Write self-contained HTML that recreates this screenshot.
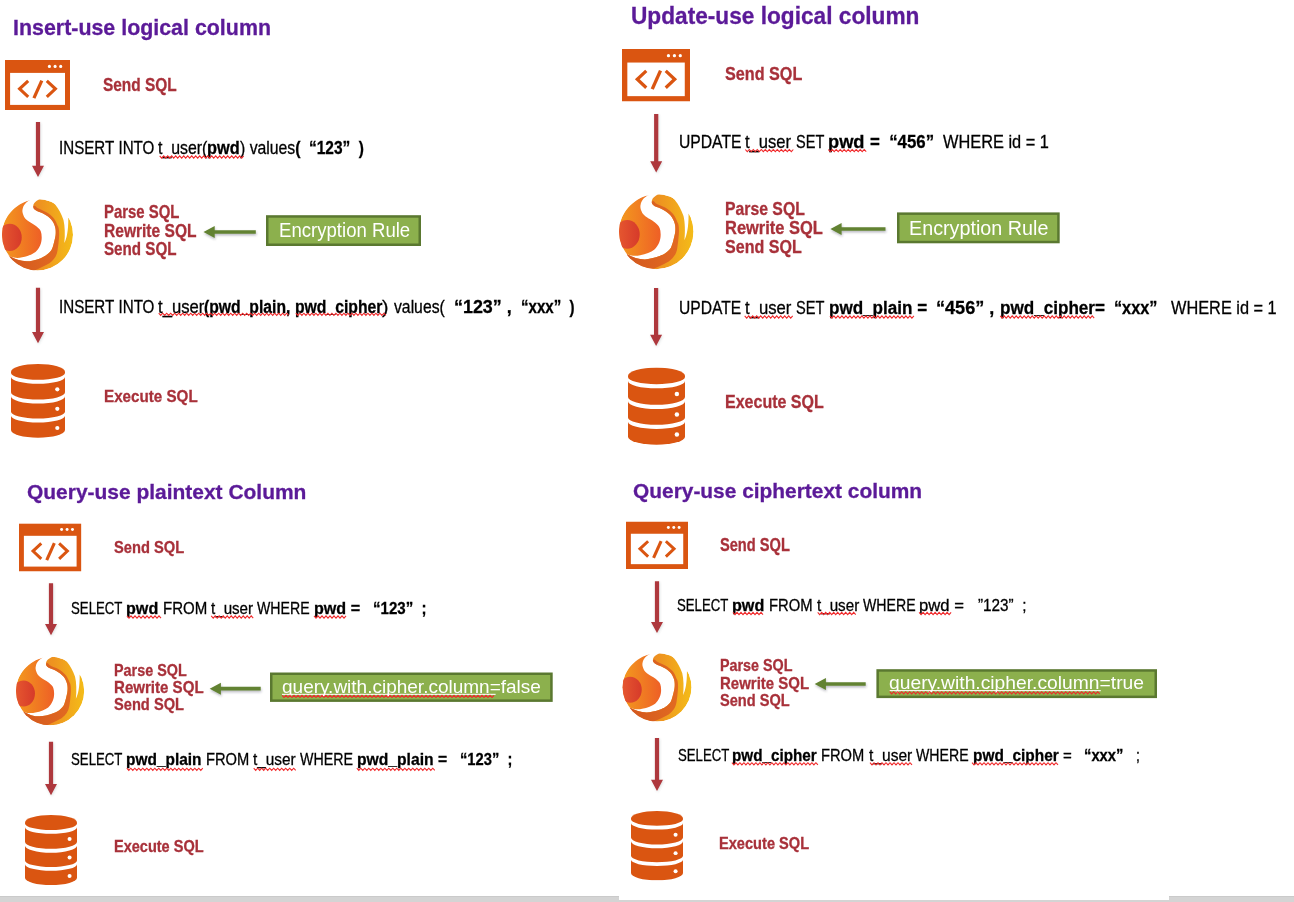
<!DOCTYPE html><html><head><meta charset="utf-8"><title>Encrypt</title><style>

html,body{margin:0;padding:0;background:#fff;}
body{width:1294px;height:902px;position:relative;overflow:hidden;font-family:"Liberation Sans",sans-serif;}
svg.gfx{position:absolute;left:0;top:0;}
.tx{position:absolute;white-space:nowrap;line-height:1;font-weight:bold;transform-origin:0 0;-webkit-text-stroke:0.3px currentColor;}
.tw{-webkit-text-stroke:0;}
.tx span{font-weight:normal;}
.tx b{font-weight:bold;}
.bar{position:absolute;background:#D4D4D4;border-top:1px solid #CACACA;box-sizing:border-box;}

</style></head><body>
<svg class="gfx" width="1294" height="902" viewBox="0 0 1294 902">

<defs>
 <filter id="shR" x="-100%" y="-10%" width="300%" height="130%"><feDropShadow dx="0.6" dy="1" stdDeviation="1.3" flood-color="#506060" flood-opacity="0.22"/></filter>
 <filter id="shG" x="-10%" y="-100%" width="130%" height="300%"><feDropShadow dx="0.5" dy="1.6" stdDeviation="1.2" flood-color="#303048" flood-opacity="0.35"/></filter>
 <symbol id="code" viewBox="0 0 65 50" preserveAspectRatio="none">
  <rect x="0" y="0" width="65" height="50" fill="#DA5511"/>
  <rect x="5.1" y="12.9" width="54.9" height="32" fill="#fff"/>
  <circle cx="44.4" cy="6.4" r="1.55" fill="#fff"/>
  <circle cx="50.1" cy="6.4" r="1.55" fill="#fff"/>
  <circle cx="55.7" cy="6.4" r="1.55" fill="#fff"/>
  <polyline points="23.2,20.8 14.6,28.8 23.2,36.9" fill="none" stroke="#DA5511" stroke-width="3.1"/>
  <polyline points="41.8,20.8 50.4,28.8 41.8,36.9" fill="none" stroke="#DA5511" stroke-width="3.1"/>
  <line x1="36.8" y1="20.6" x2="28.9" y2="38.2" stroke="#DA5511" stroke-width="3.2"/>
 </symbol>
 <symbol id="db" viewBox="0 0 54 74" preserveAspectRatio="none">
  <path d="M0 7.8 A27 7.8 0 0 1 54 7.8 L54 66 A27 7.7 0 0 1 0 66 Z" fill="#DA5511"/>
  <path d="M-0.5 8.90 L0 8.90 A27 6.90 0 0 0 54 8.90 L54.5 8.90 L54.5 12.90 L54 12.90 A27 6.90 0 0 1 0 12.90 L-0.5 12.90 Z" fill="#fff"/>
  <path d="M-0.5 28.20 L0 28.20 A27 7.40 0 0 0 54 28.20 L54.5 28.20 L54.5 32.20 L54 32.20 A27 7.40 0 0 1 0 32.20 L-0.5 32.20 Z" fill="#fff"/>
  <path d="M-0.5 47.70 L0 47.70 A27 6.90 0 0 0 54 47.70 L54.5 47.70 L54.5 51.70 L54 51.70 A27 6.90 0 0 1 0 51.70 L-0.5 51.70 Z" fill="#fff"/>
  <circle cx="46.3" cy="25.3" r="2.1" fill="#fff"/>
  <circle cx="46.3" cy="44.8" r="2.1" fill="#fff"/>
  <circle cx="46.3" cy="64" r="2.1" fill="#fff"/>
 </symbol>
 <linearGradient id="gBase" x1="0" y1="0" x2="1" y2="0">
  <stop offset="0" stop-color="#E9742A"/><stop offset="0.55" stop-color="#EE9420"/><stop offset="1" stop-color="#F4BC18"/>
 </linearGradient>
 <linearGradient id="gLeft" gradientUnits="userSpaceOnUse" x1="0" y1="0" x2="56" y2="0">
  <stop offset="0" stop-color="#F39A1E"/><stop offset="1" stop-color="#EE5F26"/>
 </linearGradient>
 <linearGradient id="gRed" gradientUnits="userSpaceOnUse" x1="0" y1="0" x2="28" y2="0">
  <stop offset="0" stop-color="#E5562F"/><stop offset="1" stop-color="#D63A2A"/>
 </linearGradient>
 <linearGradient id="gDark" gradientUnits="userSpaceOnUse" x1="10" y1="0" x2="80" y2="0">
  <stop offset="0" stop-color="#D2581F"/><stop offset="1" stop-color="#E26A21"/>
 </linearGradient>
 <clipPath id="cSph"><circle cx="50" cy="50" r="50"/></clipPath>
 <symbol id="logo" viewBox="0 0 100 100" preserveAspectRatio="none" overflow="visible">
  <g clip-path="url(#cSph)">
   <circle cx="50" cy="50" r="50" fill="url(#gBase)"/>
  </g>
   <path d="M40.3 -2 L60 -2 C52 0 44 4 43.9 10.6 C44 14 47 16 50.7 17.4 C55 19 58 20 62 22.7 C66 25 69 28 71 30.8 C73 34 75 38 75.4 42 C76 47 75.5 52 74.6 55 C73 62 71.5 68 69.7 71.4 C65 78 60 80 54.6 82.6 C48 85 40 87 34.7 87 C26 87 18 84 11 80.1 L0 70 L0 0 Z" fill="#fff"/>
  <g clip-path="url(#cSph)">
   <path d="M40.3 1.3 C20 6 0 25 0 50 C0 62 4 72 11 80.1 C18 83 24 82.5 28.4 81.4 C36 80 43 77 47.2 74 C53 69 56 61 55.9 54.1 C56 47 54 43 52.2 41.6 C47 36 42 34 38.4 31.7 C34 29 31 26 30.3 23 C28.5 19 28.5 16 29 14.3 C30 8 35 3 40.3 1.3 Z" fill="url(#gLeft)"/>
   <ellipse cx="11" cy="53.7" rx="16.8" ry="19" fill="url(#gRed)"/>
   <path d="M43.9 10.6 C44 14 47 16 50.7 17.4 C55 19 58 20 62 22.7 C66 25 69 28 71 30.8 C73 34 75 38 75.4 42 C76 47 75.5 52 74.6 55 C73 62 71.5 68 69.7 71.4 C65 78 60 80 54.6 82.6 C48 85 40 87 34.7 87 C26 87 18 84 11 80.1 L4 100 L38 103 C46 100 58 95 66.8 89.9 C73 85 77 80 78.2 72 C79 66 80 60 80.3 54 C81 45 80 39 78.4 37.5 C76 31 74 28 71.7 25.6 C67 21 63 18 58.9 16.7 C53 14 49 13 47.7 10.6 C46.5 9 45 9 43.9 10.6 Z" fill="url(#gDark)"/>
  </g>
   <path d="M60 -2 C71 1 80.7 12 86.6 29.4 C88.6 38 89 50 87.8 61.5 C91 55 93.5 45 93.4 26.4 L102 26.4 L102 -2 Z" fill="#fff"/>
</symbol>
</defs>

<use href="#code" x="5.00" y="60.00" width="65.00" height="50.00"/>
<use href="#code" x="622.00" y="49.00" width="68.00" height="52.50"/>
<use href="#code" x="19.00" y="523.40" width="62.40" height="48.10"/>
<use href="#code" x="626.00" y="521.50" width="62.00" height="47.50"/>
<use href="#logo" x="2.00" y="199.00" width="71.00" height="71.60"/>
<use href="#logo" x="619.00" y="194.00" width="74.50" height="75.20"/>
<use href="#logo" x="16.00" y="656.60" width="68.20" height="68.70"/>
<use href="#logo" x="622.60" y="653.00" width="68.90" height="68.50"/>
<use href="#db" x="11.00" y="364.00" width="54.00" height="74.00"/>
<use href="#db" x="628.00" y="367.60" width="57.00" height="77.40"/>
<use href="#db" x="25.00" y="815.00" width="52.00" height="70.40"/>
<use href="#db" x="631.00" y="811.00" width="52.00" height="69.60"/>
<path d="M35.90 122.00 L40.10 122.00 L40.10 165.80 L44.00 165.80 L38.00 177.00 L32.00 165.80 L35.90 165.80 Z" fill="#AE383D" filter="url(#shR)"/>
<path d="M35.90 287.70 L40.10 287.70 L40.10 332.00 L44.00 332.00 L38.00 343.20 L32.00 332.00 L35.90 332.00 Z" fill="#AE383D" filter="url(#shR)"/>
<path d="M654.10 113.90 L658.30 113.90 L658.30 161.30 L662.20 161.30 L656.20 172.50 L650.20 161.30 L654.10 161.30 Z" fill="#AE383D" filter="url(#shR)"/>
<path d="M654.00 287.90 L658.20 287.90 L658.20 334.80 L662.10 334.80 L656.10 346.00 L650.10 334.80 L654.00 334.80 Z" fill="#AE383D" filter="url(#shR)"/>
<path d="M48.90 583.30 L53.10 583.30 L53.10 624.00 L57.00 624.00 L51.00 635.20 L45.00 624.00 L48.90 624.00 Z" fill="#AE383D" filter="url(#shR)"/>
<path d="M48.90 741.80 L53.10 741.80 L53.10 784.00 L57.00 784.00 L51.00 795.20 L45.00 784.00 L48.90 784.00 Z" fill="#AE383D" filter="url(#shR)"/>
<path d="M654.90 581.30 L659.10 581.30 L659.10 621.90 L663.00 621.90 L657.00 633.10 L651.00 621.90 L654.90 621.90 Z" fill="#AE383D" filter="url(#shR)"/>
<path d="M654.90 738.00 L659.10 738.00 L659.10 779.80 L663.00 779.80 L657.00 791.00 L651.00 779.80 L654.90 779.80 Z" fill="#AE383D" filter="url(#shR)"/>
<path d="M255.80 230.15 L214.70 230.15 L214.70 226.00 L203.50 232.00 L214.70 238.00 L214.70 233.85 L255.80 233.85 Z" fill="#628230" filter="url(#shG)"/>
<path d="M885.50 227.15 L841.60 227.15 L841.60 223.00 L830.40 229.00 L841.60 235.00 L841.60 230.85 L885.50 230.85 Z" fill="#628230" filter="url(#shG)"/>
<path d="M260.70 686.85 L220.90 686.85 L220.90 682.70 L209.70 688.70 L220.90 694.70 L220.90 690.55 L260.70 690.55 Z" fill="#628230" filter="url(#shG)"/>
<path d="M865.70 682.15 L825.90 682.15 L825.90 678.00 L814.70 684.00 L825.90 690.00 L825.90 685.85 L865.70 685.85 Z" fill="#628230" filter="url(#shG)"/>
<rect x="267.25" y="216.45" width="152.50" height="28.30" fill="#8CB04D" stroke="#5A7830" stroke-width="2.50"/>
<rect x="898.25" y="213.65" width="160.20" height="28.40" fill="#8CB04D" stroke="#5A7830" stroke-width="2.50"/>
<rect x="271.25" y="673.75" width="280.20" height="26.90" fill="#8CB04D" stroke="#5A7830" stroke-width="2.50"/>
<rect x="877.65" y="670.45" width="278.10" height="26.40" fill="#8CB04D" stroke="#5A7830" stroke-width="2.50"/>
</svg>
<div id="t1" class="tx" style="left:13.00px;top:16.81px;font-size:22.09px;color:#5B1A98;transform:scaleX(0.9690)"><b>Insert-use logical column</b></div>
<div id="s1" class="tx" style="left:102.90px;top:76.26px;font-size:18.46px;color:#A8313A;transform:scaleX(0.8365)"><b>Send SQL</b></div>
<div id="q1a_0" class="tx" style="left:58.54px;top:139.91px;font-size:17.73px;color:#000000;transform:scaleX(0.8548)"><span>INSERT INTO </span></div>
<div id="q1a_1" class="tx" style="left:158.11px;top:139.91px;font-size:17.73px;color:#000000;transform:scaleX(0.8956)"><span>t_user(</span></div>
<div id="q1a_2" class="tx" style="left:207.48px;top:139.91px;font-size:17.73px;color:#000000;transform:scaleX(0.9199)"><b>pwd</b></div>
<div id="q1a_3" class="tx" style="left:240.11px;top:139.91px;font-size:17.73px;color:#000000;transform:scaleX(0.8908)"><span>) values</span><b>(  </b></div>
<div id="q1a_4" class="tx" style="left:309.43px;top:139.91px;font-size:17.73px;color:#000000;transform:scaleX(0.8726)"><b>“123”  )</b></div>
<div id="p1" class="tx" style="left:103.90px;top:204.26px;font-size:17.88px;color:#A8313A;transform:scaleX(0.8346)"><b>Parse SQL</b></div>
<div id="r1" class="tx" style="left:103.90px;top:222.72px;font-size:17.73px;color:#A8313A;transform:scaleX(0.8779)"><b>Rewrite SQL</b></div>
<div id="ss1" class="tx" style="left:103.70px;top:241.02px;font-size:17.88px;color:#A8313A;transform:scaleX(0.8495)"><b>Send SQL</b></div>
<div id="eb1" class="tx tw" style="left:278.80px;top:220.99px;font-size:19.62px;color:#FFFFFF;transform:scaleX(0.9477)"><span>Encryption Rule</span></div>
<div id="q1b_0" class="tx" style="left:58.54px;top:299.13px;font-size:17.44px;color:#000000;transform:scaleX(0.8687)"><span>INSERT INTO </span></div>
<div id="q1b_1" class="tx" style="left:158.07px;top:299.13px;font-size:17.44px;color:#000000;transform:scaleX(0.9552)"><span>t_user</span></div>
<div id="q1b_2" class="tx" style="left:204.42px;top:299.13px;font-size:17.44px;color:#000000;transform:scaleX(0.9001)"><b>(pwd_plain, </b></div>
<div id="q1b_3" class="tx" style="left:295.11px;top:299.13px;font-size:17.44px;color:#000000;transform:scaleX(0.9019)"><b>pwd_cipher</b></div>
<div id="q1b_4" class="tx" style="left:382.33px;top:299.13px;font-size:17.44px;color:#000000;transform:scaleX(1.1073)"><span>) </span></div>
<div id="q1b_5" class="tx" style="left:394.31px;top:299.13px;font-size:17.44px;color:#000000;transform:scaleX(0.9028)"><span>values(  </span></div>
<div id="q1b_6" class="tx" style="left:453.71px;top:299.13px;font-size:17.44px;color:#000000;transform:scaleX(1.0255)"><b>“123” ,  </b></div>
<div id="q1b_7" class="tx" style="left:521.45px;top:299.13px;font-size:17.44px;color:#000000;transform:scaleX(0.8641)"><b>“xxx”  )</b></div>
<div id="e1" class="tx" style="left:103.80px;top:387.71px;font-size:17.15px;color:#A8313A;transform:scaleX(0.8860)"><b>Execute SQL</b></div>
<div id="t2" class="tx" style="left:630.60px;top:3.62px;font-size:23.98px;color:#5B1A98;transform:scaleX(0.9456)"><b>Update-use logical column</b></div>
<div id="s2" class="tx" style="left:724.70px;top:65.48px;font-size:18.60px;color:#A8313A;transform:scaleX(0.8699)"><b>Send SQL</b></div>
<div id="q2a_0" class="tx" style="left:678.62px;top:132.77px;font-size:18.46px;color:#000000;transform:scaleX(0.8505)"><span>UPDATE </span></div>
<div id="q2a_1" class="tx" style="left:745.37px;top:132.77px;font-size:18.46px;color:#000000;transform:scaleX(0.8993)"><span>t_user </span></div>
<div id="q2a_2" class="tx" style="left:796.17px;top:132.77px;font-size:18.46px;color:#000000;transform:scaleX(0.7881)"><span>SET </span></div>
<div id="q2a_3" class="tx" style="left:828.29px;top:132.77px;font-size:18.46px;color:#000000;transform:scaleX(0.9905)"><b>pwd </b></div>
<div id="q2a_4" class="tx" style="left:869.96px;top:132.77px;font-size:18.46px;color:#000000;transform:scaleX(0.9122)"><b>=  “456”  </b></div>
<div id="q2a_5" class="tx" style="left:943.38px;top:132.77px;font-size:18.46px;color:#000000;transform:scaleX(0.8871)"><span>WHERE id = 1</span></div>
<div id="p2" class="tx" style="left:725.20px;top:199.93px;font-size:18.17px;color:#A8313A;transform:scaleX(0.8689)"><b>Parse SQL</b></div>
<div id="r2" class="tx" style="left:725.20px;top:219.72px;font-size:17.73px;color:#A8313A;transform:scaleX(0.9292)"><b>Rewrite SQL</b></div>
<div id="ss2" class="tx" style="left:725.00px;top:238.88px;font-size:17.88px;color:#A8313A;transform:scaleX(0.8987)"><b>Send SQL</b></div>
<div id="eb2" class="tx tw" style="left:908.60px;top:217.16px;font-size:21.08px;color:#FFFFFF;transform:scaleX(0.9369)"><span>Encryption Rule</span></div>
<div id="q2b_0" class="tx" style="left:678.82px;top:298.86px;font-size:18.90px;color:#000000;transform:scaleX(0.8263)"><span>UPDATE </span></div>
<div id="q2b_1" class="tx" style="left:745.27px;top:298.86px;font-size:18.90px;color:#000000;transform:scaleX(0.8829)"><span>t_user </span></div>
<div id="q2b_2" class="tx" style="left:796.37px;top:298.86px;font-size:18.90px;color:#000000;transform:scaleX(0.7738)"><span>SET </span></div>
<div id="q2b_3" class="tx" style="left:828.75px;top:298.86px;font-size:18.90px;color:#000000;transform:scaleX(0.9032)"><b>pwd_plain =  </b></div>
<div id="q2b_4" class="tx" style="left:936.29px;top:298.86px;font-size:18.90px;color:#000000;transform:scaleX(0.9584)"><b>“456” , </b></div>
<div id="q2b_5" class="tx" style="left:999.74px;top:298.86px;font-size:18.90px;color:#000000;transform:scaleX(0.9051)"><b>pwd_cipher=  </b></div>
<div id="q2b_6" class="tx" style="left:1114.29px;top:298.86px;font-size:18.90px;color:#000000;transform:scaleX(0.8601)"><b>“xxx”   </b></div>
<div id="q2b_7" class="tx" style="left:1171.18px;top:298.86px;font-size:18.90px;color:#000000;transform:scaleX(0.8642)"><span>WHERE id = 1</span></div>
<div id="e2" class="tx" style="left:725.20px;top:393.17px;font-size:18.46px;color:#A8313A;transform:scaleX(0.8685)"><b>Execute SQL</b></div>
<div id="t3" class="tx" style="left:27.20px;top:482.47px;font-size:20.20px;color:#5B1A98;transform:scaleX(1.0378)"><b>Query-use plaintext Column</b></div>
<div id="s3" class="tx" style="left:113.50px;top:539.22px;font-size:16.42px;color:#A8313A;transform:scaleX(0.8953)"><b>Send SQL</b></div>
<div id="q3a_0" class="tx" style="left:70.94px;top:600.00px;font-size:17.01px;color:#000000;transform:scaleX(0.7776)"><span>SELECT </span></div>
<div id="q3a_1" class="tx" style="left:125.89px;top:600.00px;font-size:17.01px;color:#000000;transform:scaleX(0.9479)"><b>pwd </b></div>
<div id="q3a_2" class="tx" style="left:162.65px;top:600.00px;font-size:17.01px;color:#000000;transform:scaleX(0.8836)"><span>FROM </span></div>
<div id="q3a_3" class="tx" style="left:211.04px;top:600.00px;font-size:17.01px;color:#000000;transform:scaleX(0.8907)"><span>t_user </span></div>
<div id="q3a_4" class="tx" style="left:257.39px;top:600.00px;font-size:17.01px;color:#000000;transform:scaleX(0.8309)"><span>WHERE </span></div>
<div id="q3a_5" class="tx" style="left:313.79px;top:600.00px;font-size:17.01px;color:#000000;transform:scaleX(0.9473)"><b>pwd =   </b></div>
<div id="q3a_6" class="tx" style="left:373.35px;top:600.00px;font-size:17.01px;color:#000000;transform:scaleX(0.8862)"><b>“123”  ;</b></div>
<div id="p3" class="tx" style="left:113.90px;top:662.57px;font-size:16.72px;color:#A8313A;transform:scaleX(0.8604)"><b>Parse SQL</b></div>
<div id="r3" class="tx" style="left:113.90px;top:679.56px;font-size:16.57px;color:#A8313A;transform:scaleX(0.9098)"><b>Rewrite SQL</b></div>
<div id="ss3" class="tx" style="left:113.70px;top:695.84px;font-size:16.42px;color:#A8313A;transform:scaleX(0.8928)"><b>Send SQL</b></div>
<div id="eb3" class="tx tw" style="left:282.00px;top:677.52px;font-size:18.17px;color:#FFFFFF;transform:scaleX(1.0464)"><span>query.with.cipher.column=false</span></div>
<div id="q3b_0" class="tx" style="left:71.34px;top:751.43px;font-size:17.37px;color:#000000;transform:scaleX(0.7615)"><span>SELECT </span></div>
<div id="q3b_1" class="tx" style="left:126.33px;top:751.43px;font-size:17.37px;color:#000000;transform:scaleX(0.8896)"><b>pwd_plain </b></div>
<div id="q3b_2" class="tx" style="left:206.17px;top:751.43px;font-size:17.37px;color:#000000;transform:scaleX(0.8455)"><span>FROM </span></div>
<div id="q3b_3" class="tx" style="left:253.43px;top:751.43px;font-size:17.37px;color:#000000;transform:scaleX(0.8855)"><span>t_user </span></div>
<div id="q3b_4" class="tx" style="left:300.49px;top:751.43px;font-size:17.37px;color:#000000;transform:scaleX(0.8193)"><span>WHERE </span></div>
<div id="q3b_5" class="tx" style="left:357.32px;top:751.43px;font-size:17.37px;color:#000000;transform:scaleX(0.9019)"><b>pwd_plain =   </b></div>
<div id="q3b_6" class="tx" style="left:460.46px;top:751.43px;font-size:17.37px;color:#000000;transform:scaleX(0.8486)"><b>“123”  ;</b></div>
<div id="e3" class="tx" style="left:114.00px;top:839.07px;font-size:15.84px;color:#A8313A;transform:scaleX(0.9175)"><b>Execute SQL</b></div>
<div id="t4" class="tx" style="left:633.30px;top:481.09px;font-size:20.64px;color:#5B1A98;transform:scaleX(1.0130)"><b>Query-use ciphertext column</b></div>
<div id="s4" class="tx" style="left:719.70px;top:536.64px;font-size:17.88px;color:#A8313A;transform:scaleX(0.8179)"><b>Send SQL</b></div>
<div id="q4a_0" class="tx" style="left:677.24px;top:597.61px;font-size:16.86px;color:#000000;transform:scaleX(0.7826)"><span>SELECT </span></div>
<div id="q4a_1" class="tx" style="left:732.09px;top:597.61px;font-size:16.86px;color:#000000;transform:scaleX(0.9582)"><b>pwd </b></div>
<div id="q4a_2" class="tx" style="left:768.96px;top:597.61px;font-size:16.86px;color:#000000;transform:scaleX(0.8780)"><span>FROM </span></div>
<div id="q4a_3" class="tx" style="left:816.64px;top:597.61px;font-size:16.86px;color:#000000;transform:scaleX(0.9002)"><span>t_user </span></div>
<div id="q4a_4" class="tx" style="left:863.09px;top:597.61px;font-size:16.86px;color:#000000;transform:scaleX(0.8376)"><span>WHERE </span></div>
<div id="q4a_5" class="tx" style="left:919.47px;top:597.61px;font-size:16.86px;color:#000000;transform:scaleX(0.9879)"><span>pwd =   </span></div>
<div id="q4a_6" class="tx" style="left:978.34px;top:597.61px;font-size:16.86px;color:#000000;transform:scaleX(0.9060)"><span>”123”  ;</span></div>
<div id="p4" class="tx" style="left:720.00px;top:658.47px;font-size:15.99px;color:#A8313A;transform:scaleX(0.8966)"><b>Parse SQL</b></div>
<div id="r4" class="tx" style="left:720.00px;top:675.20px;font-size:16.28px;color:#A8313A;transform:scaleX(0.9212)"><b>Rewrite SQL</b></div>
<div id="ss4" class="tx" style="left:719.80px;top:693.18px;font-size:16.57px;color:#A8313A;transform:scaleX(0.8806)"><b>Send SQL</b></div>
<div id="eb4" class="tx tw" style="left:889.10px;top:673.82px;font-size:18.17px;color:#FFFFFF;transform:scaleX(1.0609)"><span>query.with.cipher.column=true</span></div>
<div id="q4b_0" class="tx" style="left:677.54px;top:746.77px;font-size:17.15px;color:#000000;transform:scaleX(0.7697)"><span>SELECT </span></div>
<div id="q4b_1" class="tx" style="left:732.44px;top:746.77px;font-size:17.15px;color:#000000;transform:scaleX(0.8899)"><b>pwd_cipher </b></div>
<div id="q4b_2" class="tx" style="left:821.47px;top:746.77px;font-size:17.15px;color:#000000;transform:scaleX(0.8563)"><span>FROM </span></div>
<div id="q4b_3" class="tx" style="left:868.72px;top:746.77px;font-size:17.15px;color:#000000;transform:scaleX(0.9082)"><span>t_user </span></div>
<div id="q4b_4" class="tx" style="left:916.39px;top:746.77px;font-size:17.15px;color:#000000;transform:scaleX(0.8239)"><span>WHERE </span></div>
<div id="q4b_5" class="tx" style="left:972.83px;top:746.77px;font-size:17.15px;color:#000000;transform:scaleX(0.8999)"><b>pwd_cipher </b></div>
<div id="q4b_6" class="tx" style="left:1062.85px;top:746.77px;font-size:17.15px;color:#000000;transform:scaleX(0.8766)"><span>=   </span></div>
<div id="q4b_7" class="tx" style="left:1084.16px;top:746.77px;font-size:17.15px;color:#000000;transform:scaleX(0.8612)"><b>“xxx”   </b></div>
<div id="q4b_8" class="tx" style="left:1135.90px;top:746.77px;font-size:17.15px;color:#000000;transform:scaleX(0.8183)"><span>;</span></div>
<div id="e4" class="tx" style="left:718.90px;top:836.30px;font-size:15.70px;color:#A8313A;transform:scaleX(0.9310)"><b>Execute SQL</b></div>
<svg class="gfx" width="1294" height="902" viewBox="0 0 1294 902">
<polyline points="159.70,155.90 161.70,158.10 163.70,155.90 165.70,158.10 167.70,155.90 169.70,158.10 171.70,155.90 173.70,158.10 175.70,155.90 177.70,158.10 179.70,155.90 181.70,158.10 183.70,155.90 185.70,158.10 187.70,155.90 189.70,158.10 191.70,155.90 193.70,158.10 195.70,155.90 197.70,158.10 199.70,155.90 201.70,158.10 203.70,155.90 205.70,158.10 207.70,155.90 209.70,158.10 211.70,155.90 213.70,158.10 215.70,155.90 217.70,158.10 219.70,155.90 221.70,158.10 223.70,155.90 225.70,158.10 227.70,155.90 229.70,158.10 231.70,155.90 233.70,158.10 235.70,155.90 237.70,158.10 239.70,155.90 241.70,158.10 243.70,155.90" fill="none" stroke="#F0282A" stroke-width="1.10"/>
<polyline points="158.70,313.20 160.70,315.40 162.70,313.20 164.70,315.40 166.70,313.20 168.70,315.40 170.70,313.20 172.70,315.40 174.70,313.20 176.70,315.40 178.70,313.20 180.70,315.40 182.70,313.20 184.70,315.40 186.70,313.20 188.70,315.40 190.70,313.20 192.70,315.40 194.70,313.20 196.70,315.40 198.70,313.20 200.70,315.40 202.70,313.20 204.70,315.40 206.70,313.20 208.70,315.40 210.70,313.20 212.70,315.40 214.70,313.20 216.70,315.40 218.70,313.20 220.70,315.40 222.70,313.20 224.70,315.40 226.70,313.20 228.70,315.40 230.70,313.20 232.70,315.40 234.70,313.20 236.70,315.40 238.70,313.20 240.70,315.40 242.70,313.20 244.70,315.40 246.70,313.20 248.70,315.40 250.70,313.20 252.70,315.40 254.70,313.20 256.70,315.40 258.70,313.20 260.70,315.40 262.70,313.20 264.70,315.40 266.70,313.20 268.70,315.40 270.70,313.20 272.70,315.40 274.70,313.20 276.70,315.40 278.70,313.20 280.70,315.40 282.70,313.20 284.70,315.40 286.70,313.20 288.70,315.40" fill="none" stroke="#F0282A" stroke-width="1.10"/>
<polyline points="295.90,313.20 297.90,315.40 299.90,313.20 301.90,315.40 303.90,313.20 305.90,315.40 307.90,313.20 309.90,315.40 311.90,313.20 313.90,315.40 315.90,313.20 317.90,315.40 319.90,313.20 321.90,315.40 323.90,313.20 325.90,315.40 327.90,313.20 329.90,315.40 331.90,313.20 333.90,315.40 335.90,313.20 337.90,315.40 339.90,313.20 341.90,315.40 343.90,313.20 345.90,315.40 347.90,313.20 349.90,315.40 351.90,313.20 353.90,315.40 355.90,313.20 357.90,315.40 359.90,313.20 361.90,315.40 363.90,313.20 365.90,315.40 367.90,313.20 369.90,315.40 371.90,313.20 373.90,315.40 375.90,313.20 377.90,315.40 379.90,313.20 381.90,315.40 383.90,313.20 385.90,315.40" fill="none" stroke="#F0282A" stroke-width="1.10"/>
<polyline points="745.30,149.50 747.30,151.70 749.30,149.50 751.30,151.70 753.30,149.50 755.30,151.70 757.30,149.50 759.30,151.70 761.30,149.50 763.30,151.70 765.30,149.50 767.30,151.70 769.30,149.50 771.30,151.70 773.30,149.50 775.30,151.70 777.30,149.50 779.30,151.70 781.30,149.50 783.30,151.70 785.30,149.50 787.30,151.70 789.30,149.50 791.30,151.70 793.30,149.50" fill="none" stroke="#F0282A" stroke-width="1.10"/>
<polyline points="828.20,149.50 830.20,151.70 832.20,149.50 834.20,151.70 836.20,149.50 838.20,151.70 840.20,149.50 842.20,151.70 844.20,149.50 846.20,151.70 848.20,149.50 850.20,151.70 852.20,149.50 854.20,151.70 856.20,149.50 858.20,151.70 860.20,149.50 862.20,151.70 864.20,149.50 866.20,151.70" fill="none" stroke="#F0282A" stroke-width="1.10"/>
<polyline points="744.70,315.90 746.70,318.10 748.70,315.90 750.70,318.10 752.70,315.90 754.70,318.10 756.70,315.90 758.70,318.10 760.70,315.90 762.70,318.10 764.70,315.90 766.70,318.10 768.70,315.90 770.70,318.10 772.70,315.90 774.70,318.10 776.70,315.90 778.70,318.10 780.70,315.90 782.70,318.10 784.70,315.90 786.70,318.10 788.70,315.90 790.70,318.10 792.70,315.90" fill="none" stroke="#F0282A" stroke-width="1.10"/>
<polyline points="829.90,315.90 831.90,318.10 833.90,315.90 835.90,318.10 837.90,315.90 839.90,318.10 841.90,315.90 843.90,318.10 845.90,315.90 847.90,318.10 849.90,315.90 851.90,318.10 853.90,315.90 855.90,318.10 857.90,315.90 859.90,318.10 861.90,315.90 863.90,318.10 865.90,315.90 867.90,318.10 869.90,315.90 871.90,318.10 873.90,315.90 875.90,318.10 877.90,315.90 879.90,318.10 881.90,315.90 883.90,318.10 885.90,315.90 887.90,318.10 889.90,315.90 891.90,318.10 893.90,315.90 895.90,318.10 897.90,315.90 899.90,318.10 901.90,315.90 903.90,318.10 905.90,315.90 907.90,318.10 909.90,315.90 911.90,318.10 913.90,315.90" fill="none" stroke="#F0282A" stroke-width="1.10"/>
<polyline points="1000.20,315.90 1002.20,318.10 1004.20,315.90 1006.20,318.10 1008.20,315.90 1010.20,318.10 1012.20,315.90 1014.20,318.10 1016.20,315.90 1018.20,318.10 1020.20,315.90 1022.20,318.10 1024.20,315.90 1026.20,318.10 1028.20,315.90 1030.20,318.10 1032.20,315.90 1034.20,318.10 1036.20,315.90 1038.20,318.10 1040.20,315.90 1042.20,318.10 1044.20,315.90 1046.20,318.10 1048.20,315.90 1050.20,318.10 1052.20,315.90 1054.20,318.10 1056.20,315.90 1058.20,318.10 1060.20,315.90 1062.20,318.10 1064.20,315.90 1066.20,318.10 1068.20,315.90 1070.20,318.10 1072.20,315.90 1074.20,318.10 1076.20,315.90 1078.20,318.10 1080.20,315.90 1082.20,318.10 1084.20,315.90 1086.20,318.10 1088.20,315.90 1090.20,318.10 1092.20,315.90 1094.20,318.10" fill="none" stroke="#F0282A" stroke-width="1.10"/>
<polyline points="127.00,615.90 129.00,618.10 131.00,615.90 133.00,618.10 135.00,615.90 137.00,618.10 139.00,615.90 141.00,618.10 143.00,615.90 145.00,618.10 147.00,615.90 149.00,618.10 151.00,615.90 153.00,618.10 155.00,615.90 157.00,618.10 159.00,615.90 161.00,618.10" fill="none" stroke="#F0282A" stroke-width="1.10"/>
<polyline points="211.20,615.90 213.20,618.10 215.20,615.90 217.20,618.10 219.20,615.90 221.20,618.10 223.20,615.90 225.20,618.10 227.20,615.90 229.20,618.10 231.20,615.90 233.20,618.10 235.20,615.90 237.20,618.10 239.20,615.90 241.20,618.10 243.20,615.90 245.20,618.10 247.20,615.90 249.20,618.10 251.20,615.90 253.20,618.10" fill="none" stroke="#F0282A" stroke-width="1.10"/>
<polyline points="314.00,615.90 316.00,618.10 318.00,615.90 320.00,618.10 322.00,615.90 324.00,618.10 326.00,615.90 328.00,618.10 330.00,615.90 332.00,618.10 334.00,615.90 336.00,618.10 338.00,615.90 340.00,618.10 342.00,615.90 344.00,618.10 346.00,615.90" fill="none" stroke="#F0282A" stroke-width="1.10"/>
<polyline points="126.80,768.20 128.80,770.40 130.80,768.20 132.80,770.40 134.80,768.20 136.80,770.40 138.80,768.20 140.80,770.40 142.80,768.20 144.80,770.40 146.80,768.20 148.80,770.40 150.80,768.20 152.80,770.40 154.80,768.20 156.80,770.40 158.80,768.20 160.80,770.40 162.80,768.20 164.80,770.40 166.80,768.20 168.80,770.40 170.80,768.20 172.80,770.40 174.80,768.20 176.80,770.40 178.80,768.20 180.80,770.40 182.80,768.20 184.80,770.40 186.80,768.20 188.80,770.40 190.80,768.20 192.80,770.40 194.80,768.20 196.80,770.40 198.80,768.20 200.80,770.40 202.80,768.20" fill="none" stroke="#F0282A" stroke-width="1.10"/>
<polyline points="253.70,768.20 255.70,770.40 257.70,768.20 259.70,770.40 261.70,768.20 263.70,770.40 265.70,768.20 267.70,770.40 269.70,768.20 271.70,770.40 273.70,768.20 275.70,770.40 277.70,768.20 279.70,770.40 281.70,768.20 283.70,770.40 285.70,768.20 287.70,770.40 289.70,768.20 291.70,770.40 293.70,768.20 295.70,770.40" fill="none" stroke="#F0282A" stroke-width="1.10"/>
<polyline points="356.80,768.20 358.80,770.40 360.80,768.20 362.80,770.40 364.80,768.20 366.80,770.40 368.80,768.20 370.80,770.40 372.80,768.20 374.80,770.40 376.80,768.20 378.80,770.40 380.80,768.20 382.80,770.40 384.80,768.20 386.80,770.40 388.80,768.20 390.80,770.40 392.80,768.20 394.80,770.40 396.80,768.20 398.80,770.40 400.80,768.20 402.80,770.40 404.80,768.20 406.80,770.40 408.80,768.20 410.80,770.40 412.80,768.20 414.80,770.40 416.80,768.20 418.80,770.40 420.80,768.20 422.80,770.40 424.80,768.20 426.80,770.40 428.80,768.20 430.80,770.40 432.80,768.20 434.80,770.40" fill="none" stroke="#F0282A" stroke-width="1.10"/>
<polyline points="733.00,612.40 735.00,614.60 737.00,612.40 739.00,614.60 741.00,612.40 743.00,614.60 745.00,612.40 747.00,614.60 749.00,612.40 751.00,614.60 753.00,612.40 755.00,614.60 757.00,612.40 759.00,614.60 761.00,612.40 763.00,614.60" fill="none" stroke="#F0282A" stroke-width="1.10"/>
<polyline points="817.70,612.40 819.70,614.60 821.70,612.40 823.70,614.60 825.70,612.40 827.70,614.60 829.70,612.40 831.70,614.60 833.70,612.40 835.70,614.60 837.70,612.40 839.70,614.60 841.70,612.40 843.70,614.60 845.70,612.40 847.70,614.60 849.70,612.40 851.70,614.60 853.70,612.40 855.70,614.60" fill="none" stroke="#F0282A" stroke-width="1.10"/>
<polyline points="919.10,612.40 921.10,614.60 923.10,612.40 925.10,614.60 927.10,612.40 929.10,614.60 931.10,612.40 933.10,614.60 935.10,612.40 937.10,614.60 939.10,612.40 941.10,614.60 943.10,612.40 945.10,614.60 947.10,612.40 949.10,614.60 951.10,612.40" fill="none" stroke="#F0282A" stroke-width="1.10"/>
<polyline points="731.90,762.70 733.90,764.90 735.90,762.70 737.90,764.90 739.90,762.70 741.90,764.90 743.90,762.70 745.90,764.90 747.90,762.70 749.90,764.90 751.90,762.70 753.90,764.90 755.90,762.70 757.90,764.90 759.90,762.70 761.90,764.90 763.90,762.70 765.90,764.90 767.90,762.70 769.90,764.90 771.90,762.70 773.90,764.90 775.90,762.70 777.90,764.90 779.90,762.70 781.90,764.90 783.90,762.70 785.90,764.90 787.90,762.70 789.90,764.90 791.90,762.70 793.90,764.90 795.90,762.70 797.90,764.90 799.90,762.70 801.90,764.90 803.90,762.70 805.90,764.90 807.90,762.70 809.90,764.90 811.90,762.70 813.90,764.90 815.90,762.70 817.90,764.90" fill="none" stroke="#F0282A" stroke-width="1.10"/>
<polyline points="870.00,762.70 872.00,764.90 874.00,762.70 876.00,764.90 878.00,762.70 880.00,764.90 882.00,762.70 884.00,764.90 886.00,762.70 888.00,764.90 890.00,762.70 892.00,764.90 894.00,762.70 896.00,764.90 898.00,762.70 900.00,764.90 902.00,762.70 904.00,764.90 906.00,762.70 908.00,764.90 910.00,762.70 912.00,764.90" fill="none" stroke="#F0282A" stroke-width="1.10"/>
<polyline points="972.00,762.70 974.00,764.90 976.00,762.70 978.00,764.90 980.00,762.70 982.00,764.90 984.00,762.70 986.00,764.90 988.00,762.70 990.00,764.90 992.00,762.70 994.00,764.90 996.00,762.70 998.00,764.90 1000.00,762.70 1002.00,764.90 1004.00,762.70 1006.00,764.90 1008.00,762.70 1010.00,764.90 1012.00,762.70 1014.00,764.90 1016.00,762.70 1018.00,764.90 1020.00,762.70 1022.00,764.90 1024.00,762.70 1026.00,764.90 1028.00,762.70 1030.00,764.90 1032.00,762.70 1034.00,764.90 1036.00,762.70 1038.00,764.90 1040.00,762.70 1042.00,764.90 1044.00,762.70 1046.00,764.90 1048.00,762.70 1050.00,764.90 1052.00,762.70 1054.00,764.90 1056.00,762.70 1058.00,764.90" fill="none" stroke="#F0282A" stroke-width="1.10"/>
<rect x="282" y="693.8" width="213.6" height="1.1" fill="#fff"/>
<polyline points="282.00,695.30 284.00,697.50 286.00,695.30 288.00,697.50 290.00,695.30 292.00,697.50 294.00,695.30 296.00,697.50 298.00,695.30 300.00,697.50 302.00,695.30 304.00,697.50 306.00,695.30 308.00,697.50 310.00,695.30 312.00,697.50 314.00,695.30 316.00,697.50 318.00,695.30 320.00,697.50 322.00,695.30 324.00,697.50 326.00,695.30 328.00,697.50 330.00,695.30 332.00,697.50 334.00,695.30 336.00,697.50 338.00,695.30 340.00,697.50 342.00,695.30 344.00,697.50 346.00,695.30 348.00,697.50 350.00,695.30 352.00,697.50 354.00,695.30 356.00,697.50 358.00,695.30 360.00,697.50 362.00,695.30 364.00,697.50 366.00,695.30 368.00,697.50 370.00,695.30 372.00,697.50 374.00,695.30 376.00,697.50 378.00,695.30 380.00,697.50 382.00,695.30 384.00,697.50 386.00,695.30 388.00,697.50 390.00,695.30 392.00,697.50 394.00,695.30 396.00,697.50 398.00,695.30 400.00,697.50 402.00,695.30 404.00,697.50 406.00,695.30 408.00,697.50 410.00,695.30 412.00,697.50 414.00,695.30 416.00,697.50 418.00,695.30 420.00,697.50 422.00,695.30 424.00,697.50 426.00,695.30 428.00,697.50 430.00,695.30 432.00,697.50 434.00,695.30 436.00,697.50 438.00,695.30 440.00,697.50 442.00,695.30 444.00,697.50 446.00,695.30 448.00,697.50 450.00,695.30 452.00,697.50 454.00,695.30 456.00,697.50 458.00,695.30 460.00,697.50 462.00,695.30 464.00,697.50 466.00,695.30 468.00,697.50 470.00,695.30 472.00,697.50 474.00,695.30 476.00,697.50 478.00,695.30 480.00,697.50 482.00,695.30 484.00,697.50 486.00,695.30 488.00,697.50 490.00,695.30 492.00,697.50 494.00,695.30" fill="none" stroke="#F0282A" stroke-width="1.10"/>
<rect x="889.7" y="690.1" width="211.1" height="1.1" fill="#fff"/>
<polyline points="889.70,691.70 891.70,693.90 893.70,691.70 895.70,693.90 897.70,691.70 899.70,693.90 901.70,691.70 903.70,693.90 905.70,691.70 907.70,693.90 909.70,691.70 911.70,693.90 913.70,691.70 915.70,693.90 917.70,691.70 919.70,693.90 921.70,691.70 923.70,693.90 925.70,691.70 927.70,693.90 929.70,691.70 931.70,693.90 933.70,691.70 935.70,693.90 937.70,691.70 939.70,693.90 941.70,691.70 943.70,693.90 945.70,691.70 947.70,693.90 949.70,691.70 951.70,693.90 953.70,691.70 955.70,693.90 957.70,691.70 959.70,693.90 961.70,691.70 963.70,693.90 965.70,691.70 967.70,693.90 969.70,691.70 971.70,693.90 973.70,691.70 975.70,693.90 977.70,691.70 979.70,693.90 981.70,691.70 983.70,693.90 985.70,691.70 987.70,693.90 989.70,691.70 991.70,693.90 993.70,691.70 995.70,693.90 997.70,691.70 999.70,693.90 1001.70,691.70 1003.70,693.90 1005.70,691.70 1007.70,693.90 1009.70,691.70 1011.70,693.90 1013.70,691.70 1015.70,693.90 1017.70,691.70 1019.70,693.90 1021.70,691.70 1023.70,693.90 1025.70,691.70 1027.70,693.90 1029.70,691.70 1031.70,693.90 1033.70,691.70 1035.70,693.90 1037.70,691.70 1039.70,693.90 1041.70,691.70 1043.70,693.90 1045.70,691.70 1047.70,693.90 1049.70,691.70 1051.70,693.90 1053.70,691.70 1055.70,693.90 1057.70,691.70 1059.70,693.90 1061.70,691.70 1063.70,693.90 1065.70,691.70 1067.70,693.90 1069.70,691.70 1071.70,693.90 1073.70,691.70 1075.70,693.90 1077.70,691.70 1079.70,693.90 1081.70,691.70 1083.70,693.90 1085.70,691.70 1087.70,693.90 1089.70,691.70 1091.70,693.90 1093.70,691.70 1095.70,693.90 1097.70,691.70 1099.70,693.90" fill="none" stroke="#F0282A" stroke-width="1.10"/>
</svg>
<div class="bar" style="left:0;top:896px;width:619px;height:6px"></div>
<div class="bar" style="left:619px;top:900px;width:550px;height:2px;border-top:none"></div>
<div class="bar" style="left:1169px;top:896px;width:125px;height:6px"></div>
</body></html>
